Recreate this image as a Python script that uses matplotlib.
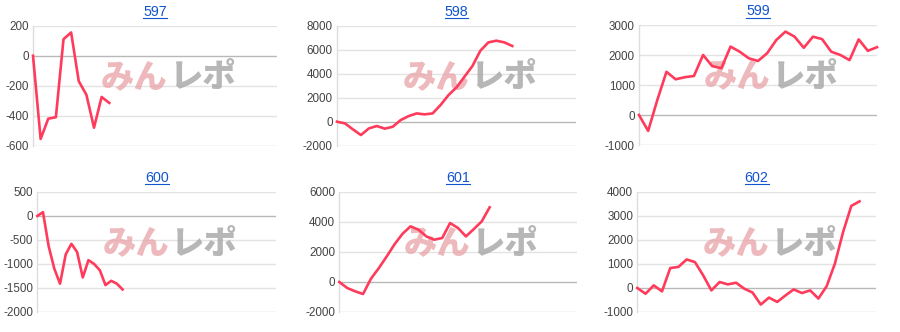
import matplotlib
matplotlib.use("Agg")
import matplotlib.pyplot as plt
from matplotlib.lines import Line2D

plt.rcParams['font.family'] = ['Liberation Sans', 'DejaVu Sans']

titles = ["597", "598", "599", "600", "601", "602"]

v597 = [0, -555, -420, -410, 110, 155, -170, -260, -480, -275, -315]
v598 = [0, -140, -640, -1110, -560, -360, -580, -420, 140, 470, 690, 610, 690,
        1390, 2220, 2860, 3750, 4640, 5920, 6610, 6750, 6610, 6310]
v599 = [0, -530, 500, 1440, 1190, 1260, 1300, 2000, 1630, 1560, 2280, 2110, 1890,
        1800, 2060, 2500, 2780, 2610, 2240, 2610, 2530, 2110, 2000, 1830, 2520, 2140, 2260]
v600 = [0, 80, -630, -1100, -1410, -800, -580, -750, -1280, -920, -1000, -1130,
        -1440, -1350, -1410, -1530]
v601 = [0, -400, -620, -800, 220, 930, 1710, 2530, 3220, 3710, 3490, 3040, 2820,
        2930, 3930, 3600, 3040, 3530, 4040, 4980]
v602 = [0, -240, 110, -140, 830, 880, 1190, 1080, 530, -100, 250, 150, 220, -30,
        -190, -690, -400, -580, -310, -60, -210, -100, -440, 70, 1010, 2330, 3420, 3610]
series = [v597, v598, v599, v600, v601, v602]

# x axis length (games) per chart
xmax = [32, 30, 26, 42, 30, 29]
yticks = [
    [-600, -400, -200, 0, 200],
    [-2000, 0, 2000, 4000, 6000, 8000],
    [-1000, 0, 1000, 2000, 3000],
    [-2000, -1500, -1000, -500, 0, 500],
    [-2000, 0, 2000, 4000, 6000],
    [-1000, 0, 1000, 2000, 3000, 4000],
]

# plot boxes in pixels: left, top, right, bottom
boxes = [
    (33, 25.7, 277, 145.7), (337, 25.7, 576, 145.7), (639, 25, 877, 145),
    (37.3, 192, 276, 312), (339.3, 192, 576.7, 312), (637.3, 192, 876, 312),
]

W, H = 900, 332
fig = plt.figure(figsize=(W / 100, H / 100), dpi=100)

line_col = '#ff3b5c'
jp = ['Noto Sans CJK JP', 'DejaVu Sans']
title_objs = []
for i in range(6):
    l, t, r, b = boxes[i]
    ax = fig.add_axes([l / W, 1 - b / H, (r - l) / W, (b - t) / H])
    vals = series[i]
    ax.set_xlim(0, xmax[i])
    ax.set_ylim(yticks[i][0], yticks[i][-1])
    ax.set_yticks(yticks[i])
    ax.set_yticklabels([str(v) for v in yticks[i]])
    ax.set_xticks([])
    for y in yticks[i]:
        col = '#b8b8b8' if y == 0 else '#e3e3e3'
        if y == yticks[i][0]:
            col = '#cccccc'
        ax.axhline(y, color=col, lw=1, zorder=1)
    for s in ['top', 'right', 'bottom']:
        ax.spines[s].set_visible(False)
    ax.spines['left'].set_color('#dddddd')
    ax.spines['left'].set_linewidth(1)
    ax.tick_params(axis='y', length=0, pad=3, labelsize=8.4, labelcolor='#444444')
    # watermark
    ax.text(0.553, 0.575, "みん", transform=ax.transAxes, ha='right', va='center',
            fontsize=24, fontweight='heavy', color='#e8a2a6', alpha=0.75,
            family=jp, zorder=2)
    ax.text(0.56, 0.575, "レポ", transform=ax.transAxes, ha='left', va='center',
            fontsize=24, fontweight='heavy', color='#a5a5a5', alpha=0.8,
            family=jp, zorder=2)
    ax.plot(range(len(vals)), vals, color=line_col, lw=1.9, zorder=3,
            solid_joinstyle='round', clip_on=False)
    tt = ax.text(0.5, 1.0 + 14 / (b - t), titles[i], transform=ax.transAxes,
                 ha='center', va='center', fontsize=10.3, color='#1155cc')
    title_objs.append(tt)

fig.canvas.draw()
renderer = fig.canvas.get_renderer()
for tt in title_objs:
    bb = tt.get_window_extent(renderer)
    y = bb.y0 + 0.5
    fig.add_artist(Line2D([bb.x0 / W, bb.x1 / W], [y / H, y / H],
                          transform=fig.transFigure, color='#1155cc', lw=0.8))

fig.savefig("out.png", dpi=100)
